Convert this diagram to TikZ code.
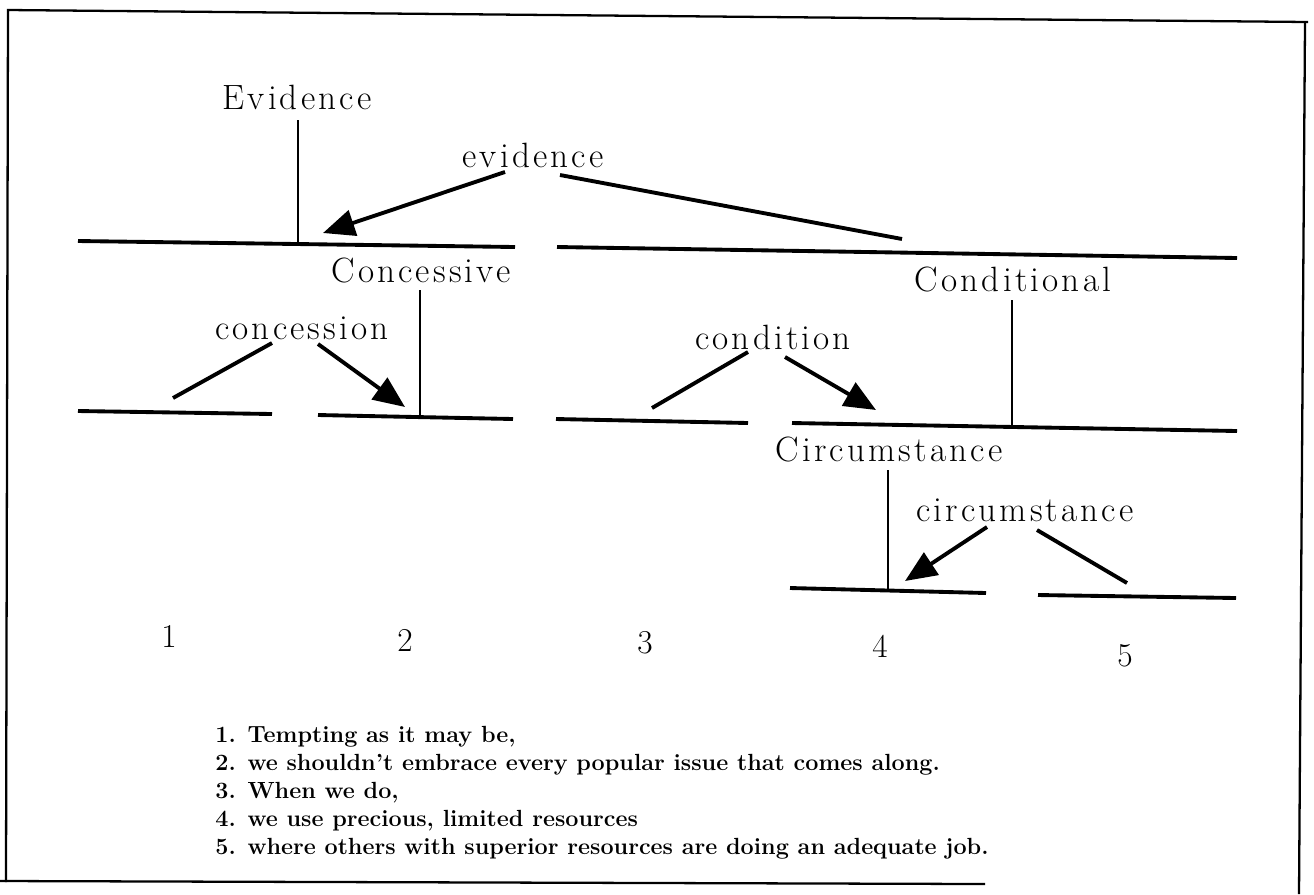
\documentclass[tikz,border=0pt]{standalone}
\usepackage{fontspec}
\setmainfont{Latin Modern Roman}
\newfontfamily\lblfont[LetterSpace=9]{Latin Modern Roman}
\usetikzlibrary{arrows.meta}
\begin{document}
\begin{tikzpicture}[x=0.02cm,y=-0.02cm,
  lbl/.style={inner sep=0pt,font=\lblfont\fontsize{20}{22}\selectfont},
  num/.style={inner sep=0pt,font=\fontsize{19}{22}\selectfont},
  bar/.style={line width=2.2pt},
  stem/.style={line width=1.6pt},
  rel/.style={line width=2.2pt},
  arr/.style={line width=2.2pt,-{Triangle[length=18pt,width=15pt]}},
  frame/.style={line width=1.3pt},
  item/.style={anchor=west,inner sep=0pt,font=\fontsize{13.3}{15}\selectfont\bfseries}]
\useasboundingbox (0,0) rectangle (1314,894);
% frame
\coordinate (f1) at (8,10);
\coordinate (f2) at (1308,22);
\coordinate (f3) at (1299,894);
\coordinate (f4) at (6,882);
\coordinate (f5) at (0,881);
\coordinate (f6) at (985,884);
\draw[frame] (f4) -- (f1) -- (f2);
\draw[frame] (1305,22) -- (f3);
\draw[frame] (f5) -- (f6);
% bars
\coordinate (b1a) at (78,241); \coordinate (b1b) at (515,247);
\coordinate (b2a) at (557,247); \coordinate (b2b) at (1237,258);
\coordinate (c1a) at (78,411); \coordinate (c1b) at (272,414);
\coordinate (c2a) at (318,415); \coordinate (c2b) at (513,419);
\coordinate (c3a) at (556,419); \coordinate (c3b) at (748,423);
\coordinate (c4a) at (792,423); \coordinate (c4b) at (1237,431);
\coordinate (d1a) at (790,588); \coordinate (d1b) at (986,593);
\coordinate (d2a) at (1038,595); \coordinate (d2b) at (1236,598);
\foreach \a/\b in {b1a/b1b,b2a/b2b,c1a/c1b,c2a/c2b,c3a/c3b,c4a/c4b,d1a/d1b,d2a/d2b}
  \draw[bar] (\a) -- (\b);
% labels
\node[lbl] (Evid) at (297,97) {Evidence};
\node[lbl] (evid) at (533,155) {evidence};
\node[lbl] (Conc) at (421,270) {Concessive};
\node[lbl] (conc) at (302,328) {concession};
\node[lbl] (Cond) at (1013,279) {Conditional};
\node[lbl] (cond) at (773,337) {condition};
\node[lbl] (Circ) at (889,449) {Circumstance};
\node[lbl] (circ) at (1025,510) {circumstance};
% stems
\coordinate (s1) at (298,243);
\coordinate (s2) at (420,417);
\coordinate (s3) at (1012,428);
\coordinate (s4) at (888,590);
\draw[stem] (298,120) -- (s1);
\draw[stem] (420,290) -- (s2);
\draw[stem] (1012,300) -- (s3);
\draw[stem] (888,470) -- (s4);
% relations
\coordinate (e1) at (323,233);
\coordinate (e2) at (902,239);
\draw[arr] (505,172) -- (e1);
\draw[rel] (560,175) -- (e2);
\coordinate (k1) at (173,398);
\coordinate (k2) at (405,407);
\draw[rel] (272,343) -- (k1);
\draw[arr] (318,344) -- (k2);
\coordinate (n1) at (652,408);
\coordinate (n2) at (876,410);
\draw[rel] (748,352) -- (n1);
\draw[arr] (785,357) -- (n2);
\coordinate (m1) at (905,581);
\coordinate (m2) at (1127,583);
\draw[arr] (987,527) -- (m1);
\draw[rel] (1037,530) -- (m2);
% numbers
\node[num] (n1l) at (169,636) {1};
\node[num] (n2l) at (405,640) {2};
\node[num] (n3l) at (645,643) {3};
\node[num] (n4l) at (880,646) {4};
\node[num] (n5l) at (1125,656) {5};
% list
\node[item] (i1) at (215,737) {1. Tempting as it may be,};
\node[item] (i2) at (215,765) {2. we shouldn't embrace every popular issue that comes along.};
\node[item] (i3) at (215,793) {3. When we do,};
\node[item] (i4) at (215,821) {4. we use precious, limited resources};
\node[item] (i5) at (215,849) {5. where others with superior resources are doing an adequate job.};
\end{tikzpicture}
\end{document}
